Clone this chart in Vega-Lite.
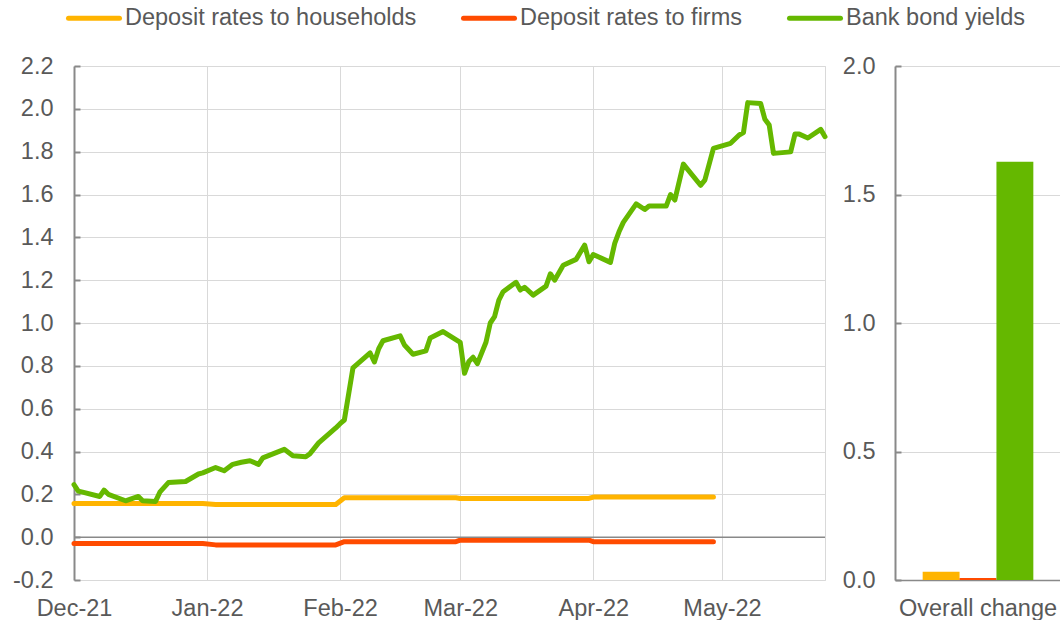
{
  "$schema": "https://vega.github.io/schema/vega-lite/v6.json",
  "padding": {"left": 12, "top": -10, "right": 0, "bottom": 0},
  "spacing": 13,
  "background": "white",
  "config": {
    "font": "Liberation Sans",
    "locale": {"number": {"decimal": ".", "thousands": ",", "grouping": [3], "currency": ["$", ""], "minus": "-"}},
    "view": {"stroke": "#d9d9d9", "strokeWidth": 1},
    "axis": {
      "labelFont": "Liberation Sans",
      "labelFontSize": 23.5,
      "labelColor": "#595959",
      "gridColor": "#d9d9d9",
      "gridWidth": 1,
      "domainColor": "#898989",
      "tickColor": "#898989",
      "title": null
    }
  },
  "datasets": {
    "lines": [
      {"date": "2021-12-01", "series": "Deposit rates to households", "value": 0.157},
      {"date": "2021-12-31", "series": "Deposit rates to households", "value": 0.157},
      {"date": "2022-01-03", "series": "Deposit rates to households", "value": 0.153},
      {"date": "2022-01-31", "series": "Deposit rates to households", "value": 0.153},
      {"date": "2022-02-02", "series": "Deposit rates to households", "value": 0.184},
      {"date": "2022-02-28", "series": "Deposit rates to households", "value": 0.184},
      {"date": "2022-03-01", "series": "Deposit rates to households", "value": 0.181},
      {"date": "2022-03-31", "series": "Deposit rates to households", "value": 0.181},
      {"date": "2022-04-01", "series": "Deposit rates to households", "value": 0.187},
      {"date": "2022-04-29", "series": "Deposit rates to households", "value": 0.187},
      {"date": "2021-12-01", "series": "Deposit rates to firms", "value": -0.03},
      {"date": "2021-12-31", "series": "Deposit rates to firms", "value": -0.03},
      {"date": "2022-01-03", "series": "Deposit rates to firms", "value": -0.036},
      {"date": "2022-01-31", "series": "Deposit rates to firms", "value": -0.036},
      {"date": "2022-02-02", "series": "Deposit rates to firms", "value": -0.021},
      {"date": "2022-02-28", "series": "Deposit rates to firms", "value": -0.021},
      {"date": "2022-03-01", "series": "Deposit rates to firms", "value": -0.014},
      {"date": "2022-03-31", "series": "Deposit rates to firms", "value": -0.014},
      {"date": "2022-04-01", "series": "Deposit rates to firms", "value": -0.021},
      {"date": "2022-04-29", "series": "Deposit rates to firms", "value": -0.021},
      {"date": "2021-12-01", "series": "Bank bond yields", "value": 0.245},
      {"date": "2021-12-02", "series": "Bank bond yields", "value": 0.215},
      {"date": "2021-12-03", "series": "Bank bond yields", "value": 0.21},
      {"date": "2021-12-07", "series": "Bank bond yields", "value": 0.19},
      {"date": "2021-12-08", "series": "Bank bond yields", "value": 0.22},
      {"date": "2021-12-09", "series": "Bank bond yields", "value": 0.2},
      {"date": "2021-12-13", "series": "Bank bond yields", "value": 0.17},
      {"date": "2021-12-16", "series": "Bank bond yields", "value": 0.19},
      {"date": "2021-12-17", "series": "Bank bond yields", "value": 0.17},
      {"date": "2021-12-20", "series": "Bank bond yields", "value": 0.167},
      {"date": "2021-12-21", "series": "Bank bond yields", "value": 0.21},
      {"date": "2021-12-23", "series": "Bank bond yields", "value": 0.255},
      {"date": "2021-12-27", "series": "Bank bond yields", "value": 0.26},
      {"date": "2021-12-30", "series": "Bank bond yields", "value": 0.295},
      {"date": "2021-12-31", "series": "Bank bond yields", "value": 0.3},
      {"date": "2022-01-03", "series": "Bank bond yields", "value": 0.325},
      {"date": "2022-01-05", "series": "Bank bond yields", "value": 0.31},
      {"date": "2022-01-07", "series": "Bank bond yields", "value": 0.34},
      {"date": "2022-01-09", "series": "Bank bond yields", "value": 0.35},
      {"date": "2022-01-11", "series": "Bank bond yields", "value": 0.357},
      {"date": "2022-01-13", "series": "Bank bond yields", "value": 0.34},
      {"date": "2022-01-14", "series": "Bank bond yields", "value": 0.37},
      {"date": "2022-01-19", "series": "Bank bond yields", "value": 0.41},
      {"date": "2022-01-21", "series": "Bank bond yields", "value": 0.38},
      {"date": "2022-01-24", "series": "Bank bond yields", "value": 0.375},
      {"date": "2022-01-25", "series": "Bank bond yields", "value": 0.39},
      {"date": "2022-01-27", "series": "Bank bond yields", "value": 0.44},
      {"date": "2022-01-31", "series": "Bank bond yields", "value": 0.51},
      {"date": "2022-02-01", "series": "Bank bond yields", "value": 0.53},
      {"date": "2022-02-02", "series": "Bank bond yields", "value": 0.547},
      {"date": "2022-02-04", "series": "Bank bond yields", "value": 0.79},
      {"date": "2022-02-08", "series": "Bank bond yields", "value": 0.86},
      {"date": "2022-02-09", "series": "Bank bond yields", "value": 0.818},
      {"date": "2022-02-10", "series": "Bank bond yields", "value": 0.88},
      {"date": "2022-02-11", "series": "Bank bond yields", "value": 0.917},
      {"date": "2022-02-15", "series": "Bank bond yields", "value": 0.94},
      {"date": "2022-02-16", "series": "Bank bond yields", "value": 0.897},
      {"date": "2022-02-18", "series": "Bank bond yields", "value": 0.854},
      {"date": "2022-02-21", "series": "Bank bond yields", "value": 0.87},
      {"date": "2022-02-22", "series": "Bank bond yields", "value": 0.93},
      {"date": "2022-02-25", "series": "Bank bond yields", "value": 0.96},
      {"date": "2022-03-01", "series": "Bank bond yields", "value": 0.91},
      {"date": "2022-03-02", "series": "Bank bond yields", "value": 0.765},
      {"date": "2022-03-03", "series": "Bank bond yields", "value": 0.82},
      {"date": "2022-03-04", "series": "Bank bond yields", "value": 0.84},
      {"date": "2022-03-05", "series": "Bank bond yields", "value": 0.81},
      {"date": "2022-03-07", "series": "Bank bond yields", "value": 0.91},
      {"date": "2022-03-08", "series": "Bank bond yields", "value": 1.0},
      {"date": "2022-03-09", "series": "Bank bond yields", "value": 1.03},
      {"date": "2022-03-10", "series": "Bank bond yields", "value": 1.107},
      {"date": "2022-03-11", "series": "Bank bond yields", "value": 1.146},
      {"date": "2022-03-14", "series": "Bank bond yields", "value": 1.19},
      {"date": "2022-03-15", "series": "Bank bond yields", "value": 1.154},
      {"date": "2022-03-16", "series": "Bank bond yields", "value": 1.167},
      {"date": "2022-03-18", "series": "Bank bond yields", "value": 1.13},
      {"date": "2022-03-21", "series": "Bank bond yields", "value": 1.172},
      {"date": "2022-03-22", "series": "Bank bond yields", "value": 1.23},
      {"date": "2022-03-23", "series": "Bank bond yields", "value": 1.2},
      {"date": "2022-03-25", "series": "Bank bond yields", "value": 1.27},
      {"date": "2022-03-28", "series": "Bank bond yields", "value": 1.297},
      {"date": "2022-03-30", "series": "Bank bond yields", "value": 1.364},
      {"date": "2022-03-31", "series": "Bank bond yields", "value": 1.286},
      {"date": "2022-04-01", "series": "Bank bond yields", "value": 1.32},
      {"date": "2022-04-05", "series": "Bank bond yields", "value": 1.283},
      {"date": "2022-04-06", "series": "Bank bond yields", "value": 1.372},
      {"date": "2022-04-07", "series": "Bank bond yields", "value": 1.426},
      {"date": "2022-04-08", "series": "Bank bond yields", "value": 1.47},
      {"date": "2022-04-11", "series": "Bank bond yields", "value": 1.556},
      {"date": "2022-04-13", "series": "Bank bond yields", "value": 1.53},
      {"date": "2022-04-14", "series": "Bank bond yields", "value": 1.546},
      {"date": "2022-04-18", "series": "Bank bond yields", "value": 1.546},
      {"date": "2022-04-19", "series": "Bank bond yields", "value": 1.6},
      {"date": "2022-04-20", "series": "Bank bond yields", "value": 1.574},
      {"date": "2022-04-22", "series": "Bank bond yields", "value": 1.742},
      {"date": "2022-04-26", "series": "Bank bond yields", "value": 1.643},
      {"date": "2022-04-27", "series": "Bank bond yields", "value": 1.667},
      {"date": "2022-04-29", "series": "Bank bond yields", "value": 1.815},
      {"date": "2022-05-03", "series": "Bank bond yields", "value": 1.839},
      {"date": "2022-05-05", "series": "Bank bond yields", "value": 1.878},
      {"date": "2022-05-06", "series": "Bank bond yields", "value": 1.889},
      {"date": "2022-05-07", "series": "Bank bond yields", "value": 2.029},
      {"date": "2022-05-10", "series": "Bank bond yields", "value": 2.025},
      {"date": "2022-05-11", "series": "Bank bond yields", "value": 1.951},
      {"date": "2022-05-12", "series": "Bank bond yields", "value": 1.924},
      {"date": "2022-05-13", "series": "Bank bond yields", "value": 1.792},
      {"date": "2022-05-17", "series": "Bank bond yields", "value": 1.799},
      {"date": "2022-05-18", "series": "Bank bond yields", "value": 1.882},
      {"date": "2022-05-19", "series": "Bank bond yields", "value": 1.882},
      {"date": "2022-05-21", "series": "Bank bond yields", "value": 1.864},
      {"date": "2022-05-24", "series": "Bank bond yields", "value": 1.904},
      {"date": "2022-05-25", "series": "Bank bond yields", "value": 1.87}
    ],
    "bars": [
      {"category": "Overall change", "series": "Deposit rates to households", "value": 0.032},
      {"category": "Overall change", "series": "Deposit rates to firms", "value": 0.008},
      {"category": "Overall change", "series": "Bank bond yields", "value": 1.627}
    ]
  },
  "hconcat": [
    {
      "width": 751,
      "height": 514,
      "layer": [
        {
          "data": {"name": "lines"},
          "mark": {"type": "line", "strokeWidth": 5, "strokeCap": "round", "strokeJoin": "round"},
          "encoding": {
            "x": {
              "field": "date",
              "type": "temporal",
              "scale": {"domain": [{"year": 2021, "month": 12, "date": 1}, {"year": 2022, "month": 5, "date": 25}], "nice": false},
              "axis": {
                "format": "%b-%y",
                "tickCount": {"interval": "month", "step": 1},
                "labelPadding": 16,
                "ticks": false,
                "domain": false,
                "grid": true,
                "labelFlush": false,
                "labelOverlap": false
              }
            },
            "y": {
              "field": "value",
              "type": "quantitative",
              "scale": {"domain": [-0.2, 2.2], "nice": false, "zero": false},
              "axis": {
                "values": [-0.2, 0, 0.2, 0.4, 0.6, 0.8, 1.0, 1.2, 1.4, 1.6, 1.8, 2.0, 2.2],
                "format": ".1f",
                "domain": true,
                "domainWidth": 2,
                "ticks": true,
                "tickSize": -6,
                "tickWidth": 2,
                "labelPadding": 27,
                "grid": true
              }
            },
            "color": {
              "field": "series",
              "type": "nominal",
              "scale": {
                "domain": ["Deposit rates to households", "Deposit rates to firms", "Bank bond yields"],
                "range": ["#FFB400", "#FF4B00", "#65B800"]
              },
              "legend": {
                "orient": "none",
                "legendX": -8,
                "legendY": -76,
                "direction": "horizontal",
                "title": null,
                "symbolType": "stroke",
                "symbolSize": 2600,
                "symbolStrokeWidth": 5,
                "labelFont": "Liberation Sans",
                "labelFontSize": 23.5,
                "labelColor": "#595959",
                "labelOffset": 3,
                "labelLimit": 400,
                "columnPadding": 36,
                "padding": 0,
                "encode": {"symbols": {"update": {"strokeCap": {"value": "round"}}}}
              }
            }
          }
        },
        {
          "data": {"values": [{}]},
          "mark": {"type": "rule", "color": "#898989", "strokeWidth": 1.5},
          "encoding": {"y": {"datum": 0}}
        }
      ]
    },
    {
      "width": 166,
      "height": 514,
      "data": {"name": "bars"},
      "mark": {"type": "bar"},
      "encoding": {
        "x": {
          "field": "category",
          "type": "nominal",
          "scale": {"paddingInner": 0, "paddingOuter": 0.25},
          "axis": {"labelAngle": 0, "ticks": false, "domain": true, "domainWidth": 1.5, "labelPadding": 16, "grid": false}
        },
        "xOffset": {
          "field": "series",
          "type": "nominal",
          "sort": ["Deposit rates to households", "Deposit rates to firms", "Bank bond yields"],
          "scale": {"paddingInner": 0, "paddingOuter": 0}
        },
        "y": {
          "field": "value",
          "type": "quantitative",
          "scale": {"domain": [0, 2], "nice": false},
          "axis": {
            "values": [0, 0.5, 1.0, 1.5, 2.0],
            "format": ".1f",
            "domain": true,
            "domainWidth": 2,
            "ticks": true,
            "tickSize": -6,
            "tickWidth": 2,
            "labelPadding": 26,
            "grid": true
          }
        },
        "color": {
          "field": "series",
          "type": "nominal",
          "scale": {
            "domain": ["Deposit rates to households", "Deposit rates to firms", "Bank bond yields"],
            "range": ["#FFB400", "#FF4B00", "#65B800"]
          },
          "legend": null
        }
      }
    }
  ]
}
